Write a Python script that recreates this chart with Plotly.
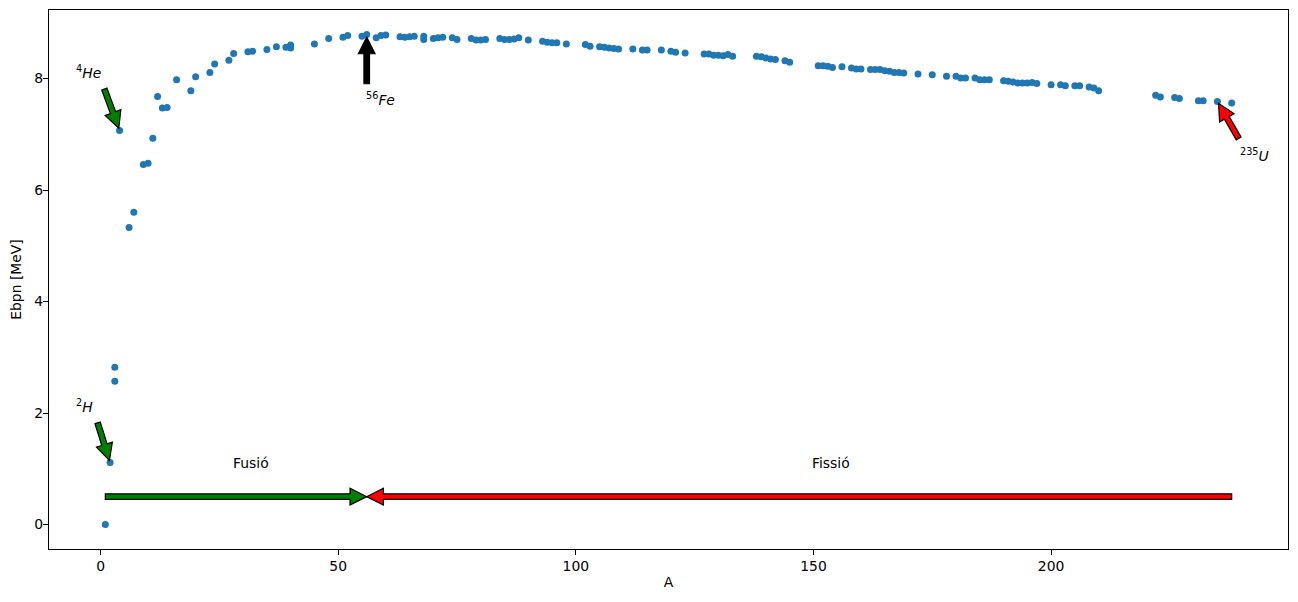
import plotly.graph_objects as go
import numpy as np

# ---------------- data ----------------
A = [1, 2, 3, 3, 4, 6, 7, 9, 10, 11, 12, 13, 14, 16, 19, 20, 23, 24, 27, 28,
     31, 32, 35, 37, 39, 40, 40, 45, 48, 51, 52, 55, 56, 58, 59, 60,
     63, 64, 65, 66, 68, 68, 70, 71, 72, 74, 75, 78, 79, 80, 81,
     84, 85, 86, 87, 88, 90, 93, 94, 95, 96, 98,
     102, 103, 105, 106, 107, 108, 109, 112, 114, 115, 118, 120, 121, 123,
     127, 128, 129, 130, 131, 132, 133, 138, 139, 140, 141, 142, 144, 145,
     151, 152, 153, 154, 156, 158, 159, 160,
     162, 163, 164, 165, 166, 167, 168, 169, 172, 175, 178, 180, 181, 182,
     184, 185, 186, 187, 190, 191, 192, 193, 194, 195, 196, 197,
     200, 202, 203, 205, 206, 208, 209, 210,
     222, 223, 226, 227, 231, 232, 235, 238]
Ebpn = [0.00, 1.11, 2.82, 2.57, 7.07, 5.33, 5.60, 6.46, 6.48, 6.93, 7.68, 7.47, 7.48, 7.98, 7.78, 8.03, 8.11, 8.26, 8.33, 8.45,
        8.48, 8.49, 8.52, 8.57, 8.56, 8.55, 8.60, 8.62, 8.72, 8.74, 8.77, 8.76, 8.79, 8.73, 8.77, 8.78,
        8.75, 8.74, 8.75, 8.76, 8.76, 8.70, 8.72, 8.73, 8.74, 8.73, 8.70, 8.72, 8.69, 8.69, 8.70,
        8.72, 8.70, 8.70, 8.71, 8.73, 8.69, 8.67, 8.65, 8.64, 8.64, 8.62,
        8.61, 8.58, 8.57, 8.56, 8.55, 8.54, 8.53, 8.53, 8.51, 8.51, 8.51, 8.49, 8.47, 8.46,
        8.44, 8.44, 8.42, 8.42, 8.41, 8.43, 8.40, 8.40, 8.39, 8.37, 8.35, 8.34, 8.32, 8.29,
        8.23, 8.23, 8.22, 8.20, 8.21, 8.19, 8.17, 8.17,
        8.16, 8.16, 8.16, 8.14, 8.13, 8.11, 8.11, 8.10, 8.08, 8.07, 8.04, 8.04, 8.01, 8.01,
        8.01, 7.98, 7.98, 7.98, 7.96, 7.95, 7.94, 7.92, 7.92, 7.92, 7.93, 7.91,
        7.89, 7.89, 7.87, 7.87, 7.87, 7.85, 7.83, 7.78,
        7.70, 7.67, 7.66, 7.64, 7.60, 7.60, 7.59, 7.56]

x_ticks = [0, 50, 100, 150, 200]
y_ticks = [0, 2, 4, 6, 8]

# nuclide annotations
nuc_labels = ["<sup>2</sup><i>H</i>", "<sup>4</sup><i>He</i>",
              "<sup>56</sup><i>Fe</i>", "<sup>235</sup><i>U</i>"]
nuc_xy = [(2, 1.11), (4, 7.07), (56, 8.79), (235, 7.59)]
nuc_text = [(-5, 2), (-5, 8), (56, 7.5), (240, 6.5)]
nuc_tail = [(-0.76, 1.86), (0.63, 7.85), (56, 7.86), (239.7, 6.89)]
nuc_colors = ["green", "green", "black", "red"]

# process annotations
proc_labels = ["Fusió", "Fissió"]
proc_text = [(28, 1), (150, 1)]
proc_from = [(1, 0.5), (238, 0.5)]
proc_to = [(56, 0.5), (56, 0.5)]
proc_colors = ["green", "red"]

# ---------------- layout geometry ----------------
# the page body adds an 8px offset, so the figure is 8px smaller
FIG_W, FIG_H = 1290, 594
ML, MR, MT, MB = 41, 10, 2, 53
PW, PH = FIG_W - ML - MR, FIG_H - MT - MB

xmin, xmax = min(A), max(A)
ymin, ymax = min(Ebpn), max(Ebpn)
xr = [xmin - 0.05 * (xmax - xmin), xmax + 0.05 * (xmax - xmin)]
yr = [ymin - 0.05 * (ymax - ymin), ymax + 0.05 * (ymax - ymin)]
sx = PW / (xr[1] - xr[0])
sy = PH / (yr[1] - yr[0])

DPI = 100 / 72.0


def arrow_path(tail, tip, shrink=0.0, width=4 * DPI, headwidth=12 * DPI, headlength=12 * DPI):
    t = np.array([tail[0] * sx, tail[1] * sy])
    p = np.array([tip[0] * sx, tip[1] * sy])
    d = p - t
    L = np.hypot(*d)
    u = d / L
    t = t + u * L * shrink
    p = p - u * L * shrink
    n = np.array([-u[1], u[0]])
    neck = p - u * headlength
    pts = [t + n * width / 2, neck + n * width / 2, neck + n * headwidth / 2, p,
           neck - n * headwidth / 2, neck - n * width / 2, t - n * width / 2]
    s = ""
    for i, q in enumerate(pts):
        s += ("M" if i == 0 else "L") + f"{q[0] / sx:.5f},{q[1] / sy:.5f} "
    return s + "Z"


fig = go.Figure()
fig.add_trace(go.Scatter(x=A, y=Ebpn, mode="markers",
                         marker=dict(color="#1f77b4", size=7, line=dict(width=0)),
                         showlegend=False, hoverinfo="x+y"))

FONT = dict(family="DejaVu Sans", size=13.9, color="black")

shapes = []
annotations = []
for lab, xy, txt, tail, col in zip(nuc_labels, nuc_xy, nuc_text, nuc_tail, nuc_colors):
    shapes.append(dict(type="path", xref="x", yref="y", path=arrow_path(tail, xy, shrink=0.05),
                       fillcolor=col, line=dict(color="black", width=1.2), layer="above"))
    annotations.append(dict(x=txt[0], y=txt[1], xref="x", yref="y", text=lab, showarrow=False,
                            xanchor="left", yanchor="bottom", yshift=-4, xshift=-3, font=FONT))

for lab, txt, a0, a1, col in zip(proc_labels, proc_text, proc_from, proc_to, proc_colors):
    shapes.append(dict(type="path", xref="x", yref="y", path=arrow_path(a0, a1, shrink=0.0),
                       fillcolor=col, line=dict(color="black", width=1.2), layer="above"))
    annotations.append(dict(x=txt[0], y=txt[1], xref="x", yref="y", text=lab, showarrow=False,
                            xanchor="left", yanchor="bottom", yshift=-4, xshift=-3, font=FONT))

axis_common = dict(showline=True, mirror=True, linecolor="black", linewidth=1.1,
                   ticks="outside", ticklen=5, tickwidth=1.1, tickcolor="black",
                   showgrid=False, zeroline=False, tickfont=FONT, automargin=False)

fig.update_layout(
    width=FIG_W, height=FIG_H,
    margin=dict(l=ML, r=MR, t=MT, b=MB, pad=0),
    paper_bgcolor="white", plot_bgcolor="white",
    font=FONT,
    shapes=shapes, annotations=annotations,
    xaxis=dict(range=xr, tickvals=x_ticks, ticktext=[str(v) for v in x_ticks],
               title=dict(text="A", font=FONT, standoff=4), ticklabelstandoff=-1, **axis_common),
    yaxis=dict(range=yr, tickvals=y_ticks, ticktext=[str(v) for v in y_ticks],
               title=dict(text="Ebpn [MeV]", font=FONT, standoff=9), ticklabelstandoff=-3, **axis_common),
)

fig.write_html("out.html")
